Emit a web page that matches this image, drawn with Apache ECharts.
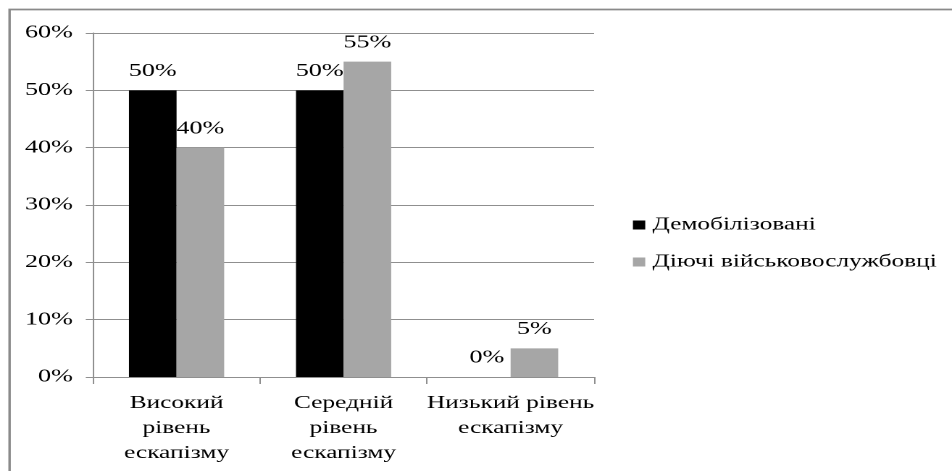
<!DOCTYPE html>
<html>
<head>
<meta charset="utf-8">
<script src="https://cdn.jsdelivr.net/npm/echarts@6/dist/echarts.min.js"></script>
<style>
  html, body { margin: 0; padding: 0; background: #fff; overflow: hidden; }
  #wrap { width: 952px; height: 471px; overflow: hidden; }
  /* the chart is laid out narrow and widened horizontally, giving the wide serif lettering */
  #chart { width: 657px; height: 471px; transform: scaleX(1.449); transform-origin: 0 0; }
</style>
</head>
<body>
<div id="wrap"><div id="chart"></div></div>
<script>
const categories = ['Високий\nрівень\nескапізму', 'Середній\nрівень\nескапізму', 'Низький рівень\nескапізму'];
const seriesNames = ['Демобілізовані', 'Діючі військовослужбовці'];
const demobilized = [50, 50, 0];
const activeDuty = [40, 55, 5];
const yMin = 0, yMax = 60, yStep = 10;

const FONT = '"Liberation Serif", serif';
const GRID_GREY = '#8f8f8f';

const chart = echarts.init(document.getElementById('chart'), null, { renderer: 'canvas', devicePixelRatio: 2 });

function valueLabel() {
  return {
    show: true,
    position: 'top',
    distance: 10,
    formatter: '{c}%',
    color: '#000',
    fontFamily: FONT,
    fontSize: 18
  };
}

chart.setOption({
  animation: false,
  backgroundColor: '#fff',
  graphic: [{
    type: 'rect',
    shape: { x: 6.6, y: 9.5, width: 700, height: 500 },
    style: { fill: 'none', stroke: '#8a8a8a', lineWidth: 1.7 },
    silent: true
  }],
  grid: { left: 64.2, right: 247, top: 33, bottom: 94 },
  legend: {
    orient: 'vertical',
    left: 436.8,
    top: 215,
    padding: 0,
    itemWidth: 8.5,
    itemHeight: 9,
    itemGap: 17,
    icon: 'rect',
    data: seriesNames,
    textStyle: { color: '#000', fontFamily: FONT, fontSize: 17.5, lineHeight: 20 }
  },
  xAxis: {
    type: 'category',
    data: categories,
    axisLine: { show: true, lineStyle: { color: GRID_GREY, width: 1 } },
    axisTick: { show: true, length: 7, lineStyle: { color: GRID_GREY } },
    axisLabel: {
      color: '#000',
      fontFamily: FONT,
      fontSize: 17.5,
      lineHeight: 25,
      margin: 14,
      interval: 0
    }
  },
  yAxis: {
    type: 'value',
    min: yMin,
    max: yMax,
    interval: yStep,
    axisLine: { show: true, lineStyle: { color: GRID_GREY, width: 1 } },
    axisTick: { show: true, length: 5, lineStyle: { color: GRID_GREY } },
    splitLine: { show: true, lineStyle: { color: GRID_GREY, width: 1 } },
    axisLabel: {
      formatter: '{value}%',
      color: '#000',
      fontFamily: FONT,
      fontSize: 18,
      margin: 14
    }
  },
  series: [
    {
      name: seriesNames[0],
      type: 'bar',
      data: demobilized,
      barGap: '0%',
      barCategoryGap: '43%',
      itemStyle: { color: '#000000' },
      label: valueLabel()
    },
    {
      name: seriesNames[1],
      type: 'bar',
      data: activeDuty,
      barGap: '0%',
      barCategoryGap: '43%',
      itemStyle: { color: '#a6a6a6' },
      label: valueLabel()
    }
  ]
});
</script>
</body>
</html>
